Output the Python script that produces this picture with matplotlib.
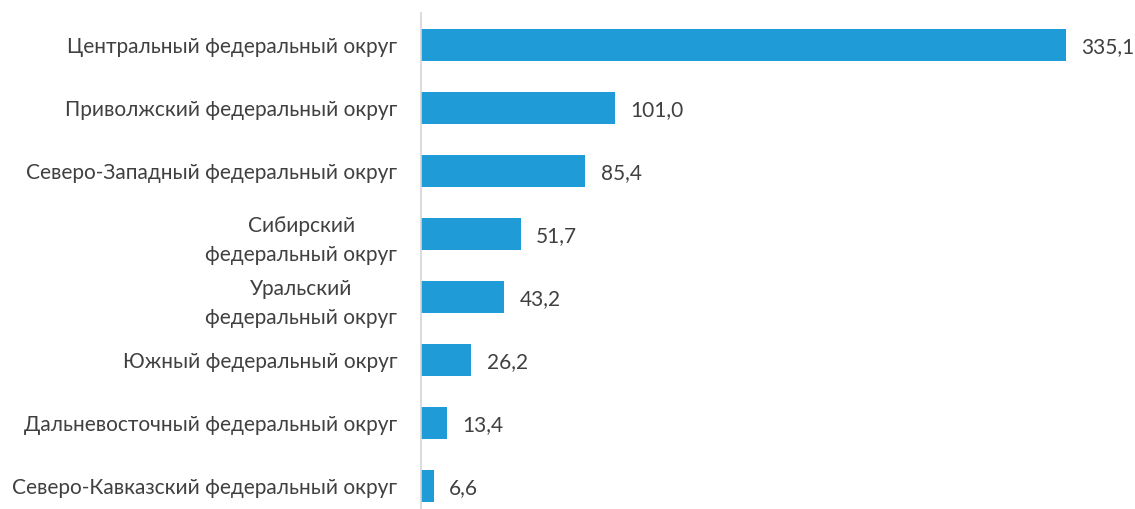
import matplotlib
matplotlib.use("Agg")
import matplotlib.pyplot as plt
from matplotlib.transforms import ScaledTranslation

regions = [
    "Центральный федеральный округ",
    "Приволжский федеральный округ",
    "Северо-Западный федеральный округ",
    "Сибирский\nфедеральный округ",
    "Уральский\nфедеральный округ",
    "Южный федеральный округ",
    "Дальневосточный федеральный округ",
    "Северо-Кавказский федеральный округ",
]
values = [335.1, 101.0, 85.4, 51.7, 43.2, 26.2, 13.4, 6.6]

BAR = "#1f9bd7"
TXT = "#404040"
plt.rcParams["font.family"] = ["Lato", "DejaVu Sans"]

W, H = 1135, 509
fig = plt.figure(figsize=(W / 100, H / 100), dpi=100)
# axes placed in pixel terms: left spine at x=421, rows 63 px apart
left, right, top, rowh = 421, 1114, 13.5, 63
ax = fig.add_axes([left / W, 1 - (top + 8 * rowh) / H, (right - left) / W, 8 * rowh / H])

y = range(len(values))
ax.barh(y, values, height=0.5, color=BAR)
ax.set_ylim(len(values) - 0.5, -0.5)
ax.set_xlim(0, 360)

for yi, v in zip(y, values):
    ax.annotate(f"{v:.1f}".replace(".", ","), (v, yi), xytext=(11, -1.5),
                textcoords="offset points", va="center", ha="left",
                fontsize=15, color=TXT)

ax.set_yticks(list(y))
ax.set_yticklabels(regions, fontsize=15, color=TXT, multialignment="center",
                   linespacing=1.55)
# two-line labels sit a little above the bar centre
for lab in ax.get_yticklabels():
    if "\n" in lab.get_text():
        lab.set_transform(lab.get_transform() + ScaledTranslation(0, 4 / 100, fig.dpi_scale_trans))
ax.tick_params(axis="y", length=0, pad=17)
ax.set_xticks([])
for s in ("top", "right", "bottom"):
    ax.spines[s].set_visible(False)
ax.spines["left"].set_color("#d4d4d4")
ax.spines["left"].set_linewidth(1.2)

fig.savefig("out.png", dpi=100)
